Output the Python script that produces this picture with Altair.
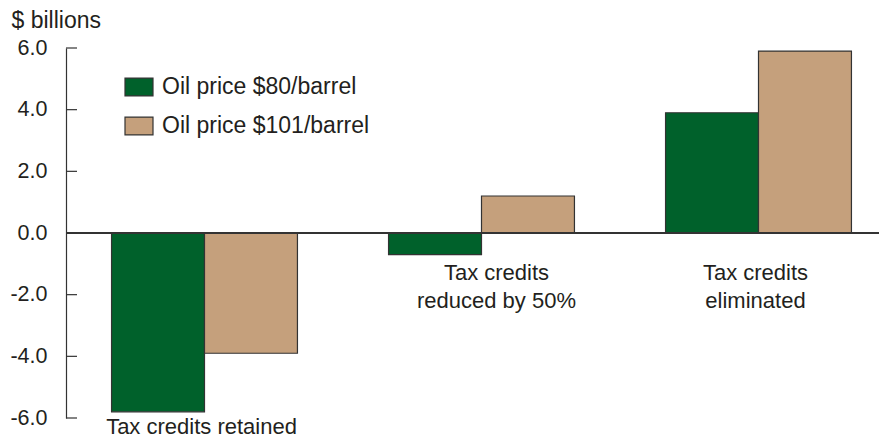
import altair as alt
import pandas as pd

categories = ["Tax credits retained", "Tax credits reduced by 50%", "Tax credits eliminated"]
series = ["Oil price $80/barrel", "Oil price $101/barrel"]
oil_80 = [-5.8, -0.7, 3.9]
oil_101 = [-3.9, 1.2, 5.9]
y_ticks = [-6, -4, -2, 0, 2, 4, 6]

label_cats = ["Tax credits retained", "Tax credits reduced by 50%", "Tax credits reduced by 50%",
              "Tax credits eliminated", "Tax credits eliminated"]
label_text = ["Tax credits retained", "Tax credits", "reduced by 50%", "Tax credits", "eliminated"]
label_y = [-6.3, -1.30, -2.21, -1.30, -2.21]

rows = []
for c, a, b in zip(categories, oil_80, oil_101):
    rows.append({"category": c, "series": series[0], "value": a})
    rows.append({"category": c, "series": series[1], "value": b})
bars_df = pd.DataFrame(rows)
ticks_df = pd.DataFrame({"v": y_ticks})
labels_df = pd.DataFrame({"category": label_cats, "text": label_text, "y": label_y})

FONT = "Liberation Sans"
TXT = "#231f20"
EDGE = "#333333"

xscale = alt.Scale(domain=categories, range=[0, 831], paddingInner=0, paddingOuter=0)
yscale = alt.Scale(domain=[-6, 6], nice=False, zero=False)

bars = alt.Chart(bars_df).mark_bar(stroke=EDGE, strokeWidth=1.2).encode(
    x=alt.X("category:N", scale=xscale, axis=None, sort=categories),
    xOffset=alt.XOffset("series:N", sort=series,
                        scale=alt.Scale(domain=series, paddingInner=0, paddingOuter=0.49)),
    y=alt.Y("value:Q", scale=yscale,
            axis=alt.Axis(values=y_ticks, tickSize=0, labelPadding=19,
                          labelExpr="datum.value < 0 ? '-' + format(-datum.value, '.1f') : format(datum.value, '.1f')",
                          labelFontSize=21.5, labelFont=FONT, labelColor=TXT,
                          domainColor=EDGE, domainWidth=1.2, grid=False,
                          title="$ billions", titleAngle=0, titleAlign="left",
                          titleBaseline="alphabetic", titleX=-55, titleY=-21,
                          titleFontSize=23, titleFont=FONT, titleFontWeight="normal",
                          titleColor=TXT)),
    color=alt.Color("series:N", sort=series,
                    scale=alt.Scale(domain=series, range=["#00612b", "#c5a07c"]),
                    legend=alt.Legend(title=None, orient="none", legendX=58, legendY=24,
                                      symbolType="M-1,-0.64L1,-0.64L1,0.64L-1,0.64Z",
                                      symbolSize=784, symbolStrokeColor=EDGE,
                                      symbolStrokeWidth=1.2, labelFontSize=23,
                                      labelFont=FONT, labelColor=TXT, labelOffset=8,
                                      labelLimit=0, rowPadding=12, padding=0,
                                      symbolOpacity=1)),
)

ticks = alt.Chart(ticks_df).mark_rule(color=EDGE, strokeWidth=1.2).encode(
    y=alt.Y("v:Q", scale=yscale),
    x=alt.value(0),
    x2=alt.value(11),
)

zero = alt.Chart(ticks_df).mark_rule(color=EDGE, strokeWidth=2).encode(
    y=alt.datum(0, scale=yscale),
)

lab_base = alt.Chart(labels_df).encode(
    x=alt.X("category:N", scale=xscale, sort=categories, bandPosition=0.5),
    y=alt.Y("y:Q", scale=yscale),
    text="text:N",
)
labels_main = lab_base.transform_filter(
    alt.datum.category != categories[1]
).mark_text(fontSize=22, font=FONT, color=TXT, align="center", baseline="middle", dx=-3)
labels_mid = lab_base.transform_filter(
    alt.datum.category == categories[1]
).mark_text(fontSize=22, font=FONT, color=TXT, align="center", baseline="middle", dx=15)

chart = alt.layer(bars, zero, ticks, labels_main, labels_mid).properties(
    width=813, height=370,
    autosize=alt.AutoSizeParams(type="none"),
    padding={"left": 58, "top": 40, "right": 0, "bottom": 22},
).configure_view(stroke=None)

chart.save("out.html", embed_options={"renderer": "svg", "actions": False})
